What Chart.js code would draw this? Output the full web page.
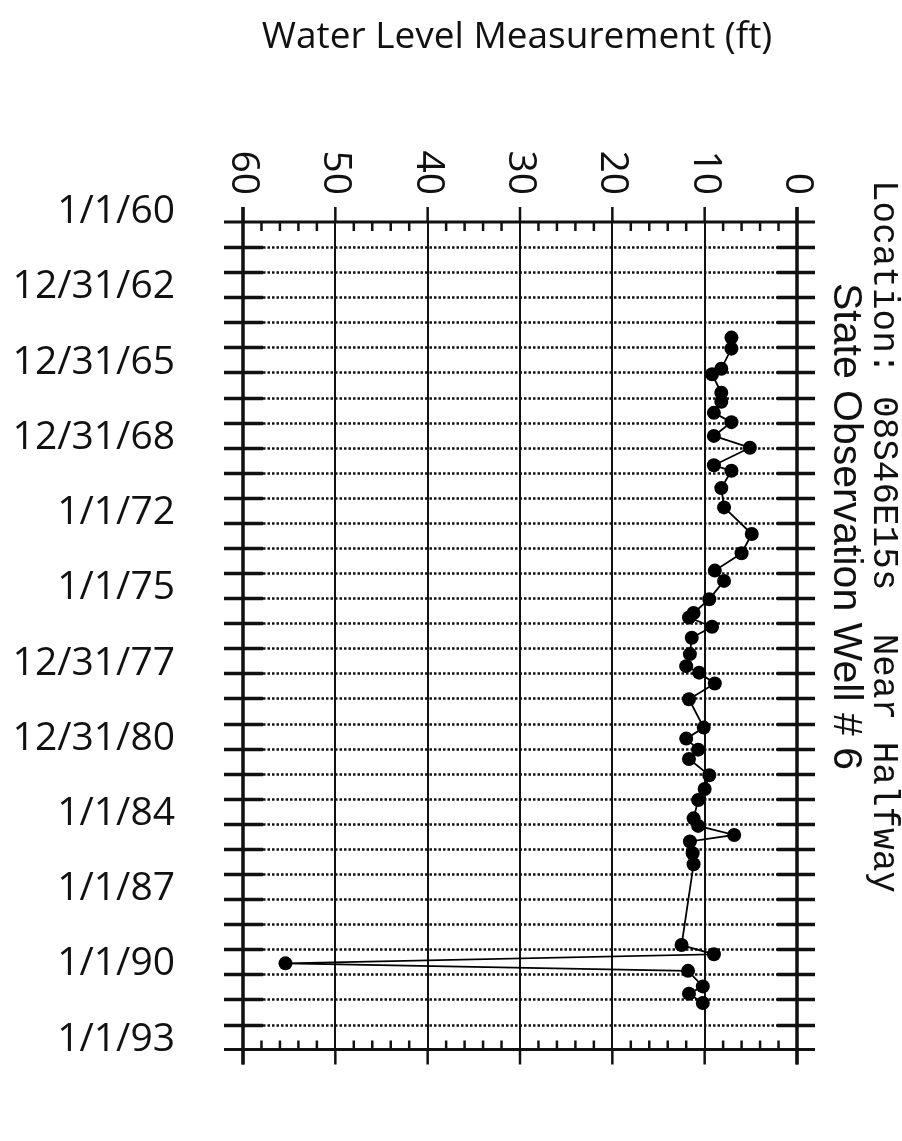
<!DOCTYPE html>
<html>
<head>
<meta charset="utf-8">
<title>State Observation Well # 6</title>
<script src="https://cdn.jsdelivr.net/npm/chart.js@4.4.0/dist/chart.umd.min.js"></script>
<style>
  html, body { margin: 0; padding: 0; background: #fff; }
  #wrap { width: 902px; height: 1141px; }
</style>
</head>
<body>
<div id="wrap"><canvas id="well" width="902" height="1141"></canvas></div>
<script>
// measurement dates (decimal years) and depth to water (ft)
const dates = [1964.61, 1965.05, 1965.85, 1966.07, 1966.81, 1967.17, 1967.61, 1967.98, 1968.53, 1969.0,
               1969.7, 1969.92, 1970.61, 1971.38, 1972.44, 1973.21, 1973.9, 1974.31, 1975.04, 1975.59,
               1975.77, 1976.14, 1976.58, 1977.23, 1977.71, 1977.97, 1978.4, 1979.03, 1980.16, 1980.6,
               1981.04, 1981.41, 1982.06, 1982.61, 1983.05, 1983.78, 1984.08, 1984.44, 1984.7, 1985.17,
               1985.61, 1988.83, 1989.2, 1989.56, 1989.86, 1990.48, 1990.77, 1991.14];
const levels = [7.1, 7.1, 8.2, 9.2, 8.2, 8.2, 9.0, 7.1, 9.0, 5.1,
                9.0, 7.1, 8.2, 7.9, 4.9, 6.0, 8.9, 7.9, 9.5, 11.2,
                11.7, 9.2, 11.4, 11.6, 12.0, 10.6, 8.9, 11.7, 10.1, 12.0,
                10.7, 11.7, 9.5, 10.0, 10.7, 11.2, 10.7, 6.8, 11.6, 11.3,
                11.2, 12.5, 9.0, 55.4, 11.8, 10.2, 11.7, 10.2];

// axis ticks
const levelTicks = [60, 50, 40, 30, 20, 10, 0];
const dateTickYears = [1960, 1963, 1966, 1969, 1972, 1975, 1978, 1981, 1984, 1987, 1990, 1993];
const dateLabels = ['1/1/60', '12/31/62', '12/31/65', '12/31/68', '1/1/72', '1/1/75',
                    '12/31/77', '12/31/80', '1/1/84', '1/1/87', '1/1/90', '1/1/93'];

const chartTitle = 'Water Level Measurement (ft)';
const wellName = 'State Observation Well # 6';
const wellSite = 'Location: 08S46E15s  Near Halfway';

const ink = '#111';

// draws the dotted year lines, the frame, tick marks and the sideways texts
const framePlugin = {
    id: 'frame',
    beforeDatasetsDraw(chart) {
        const ctx = chart.ctx;
        const a = chart.chartArea;
        const xs = chart.scales.x;
        const ys = chart.scales.y;

        ctx.save();
        ctx.strokeStyle = ink;

        // one dotted line per year, thick dashes where it meets the axes
        for (let yr = 1961; yr < 1993; yr++) {
            const py = Math.round(ys.getPixelForValue(yr)) + 0.5;
            ctx.lineWidth = 2.5;
            ctx.setLineDash([2.5, 2]);
            ctx.beginPath();
            ctx.moveTo(a.left + 20, py);
            ctx.lineTo(a.right - 20, py);
            ctx.stroke();
            ctx.setLineDash([]);
            ctx.lineWidth = 3.5;
            ctx.beginPath();
            ctx.moveTo(a.left - 19, py);
            ctx.lineTo(a.left + 20, py);
            ctx.moveTo(a.right - 20, py);
            ctx.lineTo(a.right + 18, py);
            ctx.stroke();
        }

        // top and bottom edges
        ctx.lineWidth = 3;
        ctx.beginPath();
        ctx.moveTo(a.left - 19, a.top);
        ctx.lineTo(a.right + 18, a.top);
        ctx.moveTo(a.left - 19, a.bottom);
        ctx.lineTo(a.right + 18, a.bottom);
        ctx.stroke();

        // left and right edges
        ctx.lineWidth = 3.5;
        ctx.beginPath();
        ctx.moveTo(a.left, a.top - 15);
        ctx.lineTo(a.left, a.bottom + 15);
        ctx.moveTo(a.right, a.top - 15);
        ctx.lineTo(a.right, a.bottom + 15);
        ctx.stroke();

        // major ticks outside, minor ticks inside
        for (let v = 0; v <= 60; v += 2) {
            const px = xs.getPixelForValue(v);
            ctx.beginPath();
            ctx.lineWidth = 2.5;
            if (v % 10 === 0) {
                ctx.moveTo(px, a.top - 15);
                ctx.lineTo(px, a.top);
                ctx.moveTo(px, a.bottom);
                ctx.lineTo(px, a.bottom + 15);
            } else {
                ctx.moveTo(px, a.top);
                ctx.lineTo(px, a.top + 9);
                ctx.moveTo(px, a.bottom - 9);
                ctx.lineTo(px, a.bottom);
            }
            ctx.stroke();
        }
        ctx.restore();
    },
    afterDraw(chart) {
        const ctx = chart.ctx;
        const a = chart.chartArea;
        const xs = chart.scales.x;

        ctx.save();
        ctx.fillStyle = ink;

        // title
        ctx.font = '37px "Open Sans"';
        ctx.textAlign = 'center';
        ctx.textBaseline = 'middle';
        ctx.fillText(chartTitle, 517, 37);

        // level labels, turned a quarter clockwise like the rest of the sheet
        ctx.font = '39px "Open Sans"';
        levelTicks.forEach(function (v) {
            ctx.save();
            ctx.translate(xs.getPixelForValue(v), a.top - 27);
            ctx.rotate(Math.PI / 2);
            ctx.textAlign = 'right';
            ctx.textBaseline = 'middle';
            ctx.fillText(String(v), 0, 0);
            ctx.restore();
        });

        // sideways notes on the right
        ctx.save();
        ctx.translate(845, 283);
        ctx.rotate(Math.PI / 2);
        ctx.font = '41px "Liberation Sans"';
        ctx.textAlign = 'left';
        ctx.textBaseline = 'middle';
        ctx.fillText(wellName, 0, 0);
        ctx.restore();

        ctx.save();
        ctx.translate(884, 180);
        ctx.rotate(Math.PI / 2);
        ctx.font = '36px "Liberation Mono"';
        ctx.textAlign = 'left';
        ctx.textBaseline = 'middle';
        ctx.fillText(wellSite, 0, 0);
        ctx.restore();

        ctx.restore();
    }
};

const points = dates.map(function (d, i) {
    return { x: levels[i], y: d };
});

new Chart(document.getElementById('well'), {
    type: 'scatter',
    data: {
        datasets: [{
            data: points,
            showLine: true,
            borderColor: '#000',
            borderWidth: 1.8,
            pointRadius: 7,
            pointBackgroundColor: '#000',
            pointBorderWidth: 0,
            tension: 0
        }]
    },
    options: {
        responsive: false,
        animation: false,
        devicePixelRatio: 1,
        layout: { padding: { left: 0, top: 0, right: 105, bottom: 17 } },
        plugins: {
            legend: { display: false },
            tooltip: { enabled: false }
        },
        scales: {
            x: {
                type: 'linear',
                position: 'top',
                min: 0,
                max: 60,
                reverse: true,
                ticks: { stepSize: 10, display: false },
                grid: { color: ink, lineWidth: 2, drawTicks: false },
                border: { display: false },
                afterFit: function (scale) { scale.height = 222; }
            },
            y: {
                type: 'linear',
                min: 1960,
                max: 1993,
                reverse: true,
                ticks: {
                    stepSize: 1,
                    autoSkip: false,
                    padding: 68,
                    labelOffset: -10,
                    color: ink,
                    font: { family: 'Open Sans', size: 39 },
                    callback: function (v) {
                        const i = dateTickYears.indexOf(Math.round(v));
                        return i >= 0 ? dateLabels[i] : '';
                    }
                },
                grid: { display: false, drawTicks: false },
                border: { display: false },
                afterFit: function (scale) { scale.width = 243; }
            }
        }
    },
    plugins: [framePlugin]
});
</script>
</body>
</html>
